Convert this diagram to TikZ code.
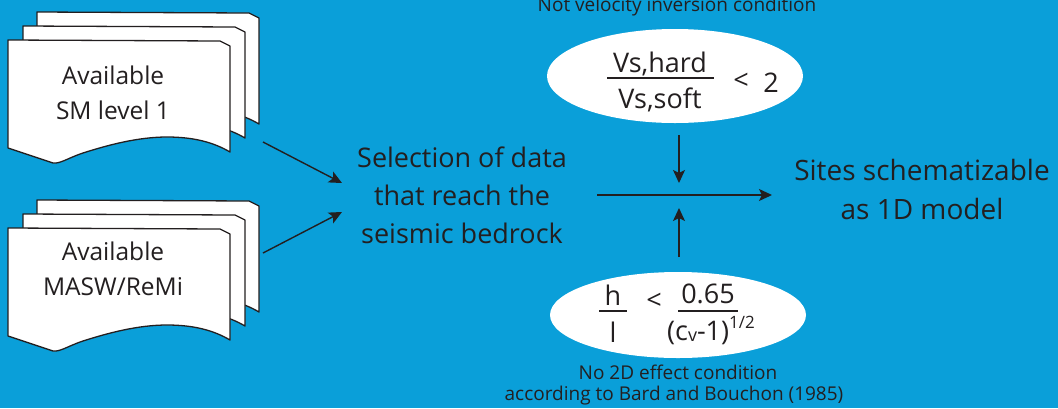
\documentclass[tikz,border=0pt]{standalone}
\usepackage{fontspec}
\setmainfont{Open Sans}
\usetikzlibrary{arrows.meta,shapes.geometric}
\definecolor{bg}{RGB}{10,159,217}
\definecolor{ink}{RGB}{35,31,32}
\tikzset{
  sheet/.pic={\filldraw[fill=white,draw=ink,line width=1.3pt,line join=round]
     (0,0) -- (212,1) -- (222,6) -- (222,112)
     .. controls (205,102) and (185,97) .. (159,97)
     .. controls (130,97) and (100,105) .. (75,113)
     .. controls (60,118) and (52,124) .. (45,123) -- (0,108) -- cycle;},
  doctext/.style={text=ink,align=center,font=\fontsize{24.5}{35}\selectfont,inner sep=0pt},
  bigtext/.style={text=ink,align=center,font=\fontsize{27}{38}\selectfont,inner sep=0pt},
  eqtext/.style={text=ink,font=\fontsize{27}{36}\selectfont,inner sep=0pt,anchor=base},
  smalltext/.style={text=ink,font=\fontsize{19}{25}\selectfont,inner sep=0pt,anchor=base},
  conn/.style={draw=ink,line width=1.4pt,-{Stealth[length=13pt,width=12pt,inset=3pt]}},
  bar/.style={draw=ink,line width=1.3pt},
  oval/.style={ellipse,fill=white,draw=none,inner sep=0pt}
}
\begin{document}
\begin{tikzpicture}[x=1pt,y=-1pt]
\fill[bg] (0,0) rectangle (1058,408);
\useasboundingbox (0,0) rectangle (1058,408);

% document stacks
\pic at (37,12) {sheet};
\pic at (23,26) {sheet};
\pic at (8,40) {sheet};
\pic at (37,200) {sheet};
\pic at (23,214) {sheet};
\pic at (8,228) {sheet};
\node[doctext] (sm) at (113,93) {Available\\SM level 1};
\node[doctext] (masw) at (113,269) {Available\\MASW/ReMi};

% central texts
\node[bigtext] (sel) at (462,195) {Selection of data\\that reach the\\seismic bedrock};
\node[bigtext,font=\fontsize{28}{39}\selectfont] (sites) at (922,189) {Sites schematizable\\as 1D model};

% top ellipse
\node[oval,minimum width=256pt,minimum height=94pt] (e1) at (675,76) {};
\node[eqtext] (n1) at (660,72) {Vs,hard};
\node[eqtext] (d1) at (660,108) {Vs,soft};
\draw[bar] (607,78) -- (714,78);
\node[eqtext] (lt1) at (741,89) {<};
\node[eqtext] (two) at (771,92) {2};
\node[smalltext] (lab1) at (677,11) {Not velocity inversion condition};

% bottom ellipse
\node[oval,minimum width=256pt,minimum height=86pt] (e2) at (678,315) {};
\node[eqtext] (n2) at (613,305) {h};
\node[eqtext] (d2) at (613,342) {l};
\draw[bar] (599,311) -- (627,311);
\node[eqtext] (lt2) at (654,309) {<};
\node[eqtext] (n3) at (708,303) {0.65};
\draw[bar] (678,311) -- (738,311);
\node[eqtext] (d3) at (711,340) {(c\raisebox{-1pt}{\fontsize{18}{22}\selectfont v}-1)\raisebox{12pt}{\fontsize{17}{21}\selectfont 1/2}};
\node[smalltext] (lab2) at (678,379) {No 2D effect condition};
\node[smalltext] (lab3) at (674,400) {according to Bard and Bouchon (1985)};

% connectors
\coordinate (a1s) at (263,142);
\coordinate (a1e) at (342,183);
\coordinate (a2s) at (263,253);
\coordinate (a2e) at (342,212);
\coordinate (hs) at (597,195);
\coordinate (he) at (772,195);
\coordinate (vts) at (679,135);
\coordinate (vte) at (679,183);
\coordinate (vbs) at (679,257);
\coordinate (vbe) at (679,208);
\draw[conn] (a1s) -- (a1e);
\draw[conn] (a2s) -- (a2e);
\draw[conn] (hs) -- (he);
\draw[conn] (vts) -- (vte);
\draw[conn] (vbs) -- (vbe);
\end{tikzpicture}
\end{document}
